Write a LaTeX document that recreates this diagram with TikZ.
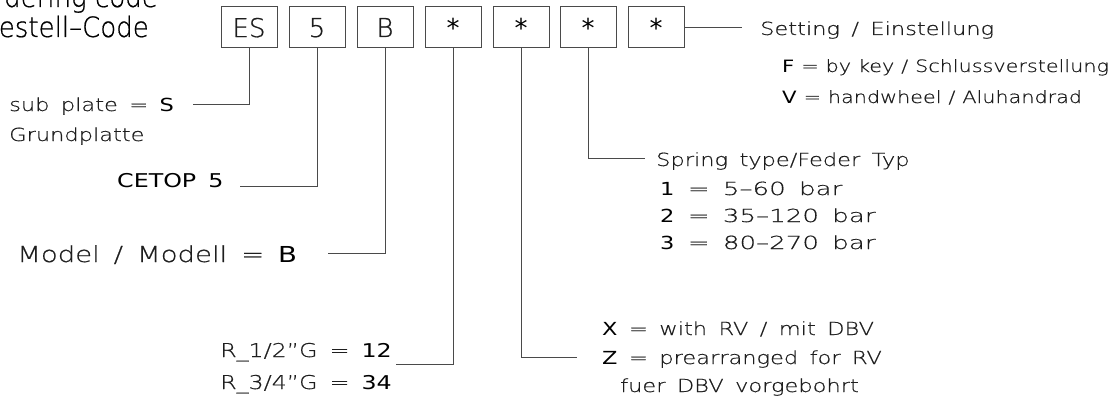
\documentclass[tikz,border=0pt]{standalone}
\usepackage{fontspec}
\setmainfont{DejaVu Sans}
\newfontfamily\thinf{DejaVu Sans ExtraLight}[FakeStretch=1.25, WordSpace=1.6, FakeBold=0.6]
\newfontfamily\thinn{DejaVu Sans ExtraLight}[FakeStretch=1.22, WordSpace=1.05, FakeBold=0.6]
\newfontfamily\thinw{DejaVu Sans ExtraLight}[FakeStretch=1.45, WordSpace=1.6, FakeBold=0.6]
\newfontfamily\boldf{DejaVu Sans}[FakeStretch=1.25, WordSpace=1.6]
\newfontfamily\thinplain{DejaVu Sans ExtraLight}[FakeBold=0.6]
\newfontfamily\titlef{DejaVu Sans ExtraLight}[FakeStretch=0.93, FakeBold=0.6]
\newfontfamily\boldplain{DejaVu Sans}
\definecolor{linegray}{HTML}{4A4A4A}
\definecolor{txtgray}{HTML}{1E1E1E}
\tikzset{
  box/.style={draw=linegray, line width=1pt, minimum width=56pt, minimum height=41pt, inner sep=0pt, text depth=0pt, font=\thinplain\fontsize{26pt}{28pt}\selectfont, text=txtgray},
  starbox/.style={box, font=\boldplain\fontsize{26pt}{28pt}\selectfont, text=black},
  conn/.style={draw=linegray, line width=1pt},
  lbl/.style={inner sep=0pt, anchor=base west, text=txtgray, font=\thinf\fontsize{18pt}{20pt}\selectfont},
  lblr/.style={lbl, anchor=base east},
  lbln/.style={lbl, font=\thinn\fontsize{17pt}{19pt}\selectfont},
  lblw/.style={lbl, font=\thinw\fontsize{18pt}{20pt}\selectfont},
  title/.style={inner sep=0pt, anchor=base east, text=black, font=\titlef\fontsize{28pt}{30pt}\selectfont}
}
\newcommand{\bk}[1]{{\boldf\color{black}#1}}
\begin{document}
\begin{tikzpicture}[x=1pt,y=-1pt]
\useasboundingbox (0,0) rectangle (1113,412);
% title (clipped by page edge)
\node[title] (t1) at (158,7) {Ordering code};
\node[title] (t2) at (149,37) {Bestell–Code};
% code boxes
\node[box] (b1) at (249,27.5) {ES};
\node[box] (b2) at (317,27.5) {5};
\node[box] (b3) at (385,27.5) {B};
\node[starbox] (b4) at (453,27.5) {*};
\node[starbox] (b5) at (521,27.5) {*};
\node[starbox] (b6) at (588,27.5) {*};
\node[starbox] (b7) at (656,27.5) {*};
% labels
\node[lbl] (l1) at (9,111) {sub plate = \bk{S}};
\node[lbl] (l1b) at (9,141) {Grundplatte};
\node[lbl, font=\boldf\fontsize{19pt}{21pt}\selectfont, text=black] (l2) at (117,187) {CETOP 5};
\node[lbl, font=\thinf\fontsize{22pt}{24pt}\selectfont] (l3) at (17,262) {Model / Modell = \bk{B}};
\node[lblr, font=\thinf\fontsize{19pt}{21pt}\selectfont] (l4a) at (392,357) {R\_1/2”G = \bk{12}};
\node[lblr, font=\thinf\fontsize{19pt}{21pt}\selectfont] (l4b) at (392,389) {R\_3/4”G = \bk{34}};
\node[lbl] (l5a) at (602,335) {\bk{X} = with RV / mit DBV};
\node[lbl] (l5b) at (602,364) {\bk{Z} = prearranged for RV};
\node[lbl] (l5c) at (620,392) {fuer DBV vorgebohrt};
\node[lbl] (l6) at (656,166) {Spring type/Feder Typ};
\node[lblw] (l6a) at (660,195) {\bk{1} = 5–60 bar};
\node[lblw] (l6b) at (660,222) {\bk{2} = 35–120 bar};
\node[lblw] (l6c) at (660,249) {\bk{3} = 80–270 bar};
\node[lbl] (l7) at (760,35) {Setting / Einstellung};
\node[lbln] (l7a) at (782,72) {\bk{F} = by key / Schlussverstellung};
\node[lbln] (l7b) at (782,103) {\bk{V} = handwheel / Aluhandrad};
% connector ends
\coordinate (e1) at (193,104);
\coordinate (e2) at (240,186);
\coordinate (e3) at (328,253);
\coordinate (e4) at (396,364);
\coordinate (e5) at (577,357);
\coordinate (e6) at (645,158);
\coordinate (e7) at (742,27.5);
% connectors
\draw[conn] (b1.south) |- (e1);
\draw[conn] (b2.south) |- (e2);
\draw[conn] (b3.south) |- (e3);
\draw[conn] (b4.south) |- (e4);
\draw[conn] (b5.south) |- (e5);
\draw[conn] (b6.south) |- (e6);
\draw[conn] (b7.east) -- (e7);
\end{tikzpicture}
\end{document}
